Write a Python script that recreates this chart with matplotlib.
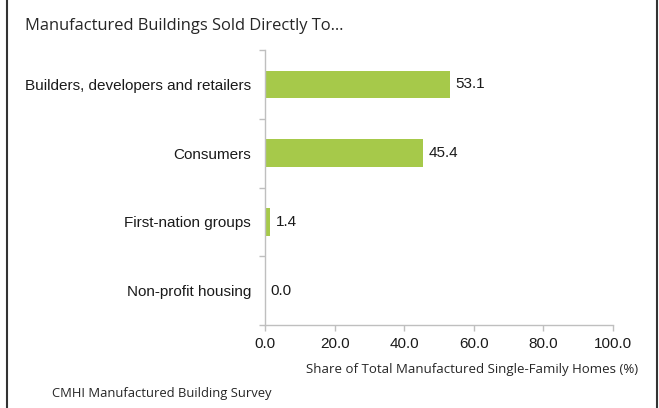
import numpy as np
import matplotlib
matplotlib.use('Agg')
import matplotlib.pyplot as plt
from matplotlib.ticker import FixedLocator

categories = ['Builders, developers and retailers', 'Consumers',
              'First-nation groups', 'Non-profit housing']
shares = [53.1, 45.4, 1.4, 0.0]
xticks = [0, 20, 40, 60, 80, 100]

green = '#a6c94a'
axis_grey = '#bfbfbf'

fig = plt.figure(figsize=(6.59, 4.08), dpi=100)
ax = fig.add_axes([265/659, 1-325/408, 348/659, 275/408])

y = np.arange(len(categories))
ax.barh(y, shares, height=0.4, color=green)
ax.set_ylim(len(categories)-0.5, -0.5)
ax.set_xlim(0, 100)

for yi, v in zip(y, shares):
    ax.text(v + 1.6, yi, f'{v:.1f}', va='center', ha='left',
            fontsize=11, family='Liberation Sans', color='#1a1a1a')

ax.set_yticks(y)
ax.set_yticklabels(categories, family='Liberation Sans', fontsize=11, color='#1a1a1a')
ax.tick_params(axis='y', which='major', length=0, pad=10)
ax.yaxis.set_minor_locator(FixedLocator(np.arange(-0.5, len(categories), 1.0)))
ax.tick_params(axis='y', which='minor', length=4, color=axis_grey, width=1)

ax.set_xticks(xticks)
ax.set_xticklabels([f'{t:.1f}' for t in xticks], family='Liberation Sans',
                   fontsize=11, color='#1a1a1a')
ax.tick_params(axis='x', length=4, color=axis_grey, width=1, pad=5)

for side in ['top', 'right']:
    ax.spines[side].set_visible(False)
for side in ['left', 'bottom']:
    ax.spines[side].set_color(axis_grey)
    ax.spines[side].set_linewidth(1)

fig.text(25/659, 1-30/408, 'Manufactured Buildings Sold Directly To\u2026',
         family='Open Sans', fontsize=11.9, color='#262626', va='baseline')
fig.text(638/659, 1-370/408, 'Share of Total Manufactured Single-Family Homes (%)',
         family='Open Sans', fontsize=9.5, color='#262626', ha='right', va='center')
fig.text(52/659, 1-393/408, 'CMHI Manufactured Building Survey',
         family='Open Sans', fontsize=9.4, color='#262626', ha='left', va='center')

# side frame lines
fig.add_artist(plt.Line2D([7/659, 7/659], [0, 1], transform=fig.transFigure,
                          color='#333333', linewidth=1.5))
fig.add_artist(plt.Line2D([657/659, 657/659], [0, 1], transform=fig.transFigure,
                          color='#333333', linewidth=1.5))

fig.savefig('out.png', dpi=100)
